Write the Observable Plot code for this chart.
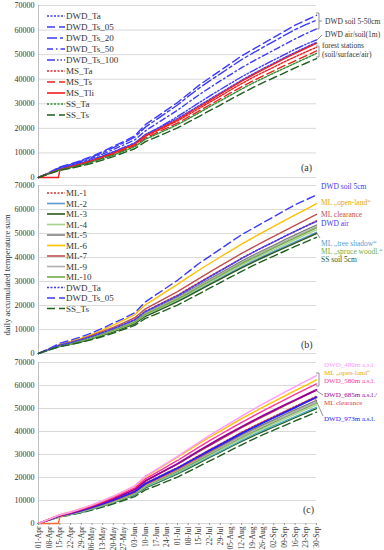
<!DOCTYPE html>
<html><head><meta charset="utf-8">
<script src="https://cdn.jsdelivr.net/npm/d3@7"></script>
<script src="https://cdn.jsdelivr.net/npm/@observablehq/plot@0.6"></script>
<style>
body{margin:0;background:#fff;font-family:"Liberation Serif","DejaVu Serif",serif}
#wrap{position:relative;width:384px;height:550px;overflow:hidden}
.panel{position:absolute;left:0;overflow:visible}
#ov{position:absolute;left:0;top:0;pointer-events:none}
svg text{font-family:"Liberation Serif","DejaVu Serif",serif}
</style></head><body><div id="wrap"></div>
<script>
// ---- data ----
const weekLabels = ["01-Apr","08-Apr","15-Apr","22-Apr","29-Apr","06-May","13-May","20-May","27-May","03-Jun","10-Jun","17-Jun","24-Jun","01-Jul","08-Jul","15-Jul","22-Jul","29-Jul","05-Aug","12-Aug","19-Aug","26-Aug","02-Sep","09-Sep","16-Sep","23-Sep","30-Sep"];
const tliLabels = ["01-Apr","14-Apr","15-Apr","22-Apr","29-Apr","06-May","13-May","20-May","27-May","03-Jun","10-Jun","17-Jun","24-Jun","01-Jul","08-Jul","15-Jul","22-Jul","29-Jul","05-Aug","12-Aug","19-Aug","26-Aug","02-Sep","09-Sep","16-Sep","23-Sep","30-Sep"];
const yTicks = [0,10000,20000,30000,40000,50000,60000,70000];

const DWD_Ta     = [0,1800,3500,4500,5800,7100,8700,10300,12200,14000,17500,19600,21800,24000,26600,29200,31800,34400,37000,39600,42000,44300,46500,48800,50900,53000,55000];
const DWD_Ts_05  = [0,2000,4300,5500,7000,8600,10500,12700,14700,17000,21500,24500,27500,30500,34000,37500,40500,43500,46500,49500,52000,54500,57000,59500,62000,64000,66000];
const DWD_Ts_20  = [0,1900,4100,5300,6700,8300,10100,12200,14200,16400,20500,23500,26500,29500,33000,36300,39300,42200,45100,48000,50500,53000,55400,57800,60200,62200,64000];
const DWD_Ts_50  = [0,1800,3900,5000,6300,7800,9500,11400,13300,15300,19000,21800,24600,27400,30500,33600,36500,39300,42000,44700,47200,49500,51800,54100,56400,58500,60500];
const DWD_Ts_100 = [0,1700,3700,4700,5900,7200,8800,10500,12200,14000,17300,19700,22200,24800,27600,30400,33100,35800,38400,41000,43300,45600,47800,50000,52200,54200,56000];
const MS_Ta  = [0,1700,3300,4300,5500,6800,8300,9800,11600,13400,16800,18800,20900,23000,25500,28000,30600,33100,35700,38200,40600,42800,44900,47100,49100,51100,53000];
const MS_Ts  = [0,1600,3200,4100,5200,6500,7900,9400,11100,12900,16100,18100,20100,22100,24600,27000,29500,32000,34500,36900,39200,41400,43400,45500,47500,49500,51500];
const MS_Tli = [0,0,3000,4300,5500,6800,8300,9900,11700,13500,17000,19100,21300,23500,26100,28700,31300,33900,36600,39200,41600,43900,46100,48400,50500,52600,54600];
const SS_Ta  = [0,1600,3100,4000,5100,6300,7700,9100,10800,12500,15600,17500,19500,21500,23900,26300,28800,31200,33600,36000,38300,40400,42500,44500,46500,48500,50500];
const SS_Ts  = [0,1500,2900,3700,4700,5800,7100,8500,10100,11700,14600,16400,18300,20200,22500,24800,27200,29500,31900,34200,36500,38600,40600,42600,44600,46500,48400];

const ML_1  = [0,1700,3400,4400,5700,7100,8700,10300,12200,14100,17600,19800,22100,24300,26900,29500,32100,34600,37100,39700,42000,44300,46500,48700,50900,53100,55300];
const ML_2  = [0,1500,3000,3900,5000,6300,7700,9200,10900,12600,15800,17800,19800,21900,24300,26700,29100,31400,33800,36100,38400,40500,42500,44500,46500,48500,50500];
const ML_3  = [0,1500,3000,3900,4900,6200,7600,9000,10700,12400,15500,17500,19500,21600,23900,26300,28700,31000,33400,35700,37900,40000,42000,44000,46000,48000,50000];
const ML_4  = [0,1600,3100,4000,5200,6500,7900,9400,11100,12900,16100,18100,20200,22300,24700,27100,29600,32000,34400,36800,39100,41200,43300,45400,47400,49500,51500];
const ML_5  = [0,1700,3300,4300,5500,6900,8400,10000,11800,13600,17000,19100,21300,23500,26000,28500,31000,33500,36000,38500,40800,43000,45100,47300,49400,51500,53500];
const ML_6  = [0,1900,3800,5000,6400,8000,9800,11800,14000,16200,20300,23100,26000,28800,31800,34700,37500,40200,42900,45600,48100,50600,53000,55400,57800,60100,62400];
const ML_7  = [0,1800,3600,4700,6000,7500,9200,10900,12900,14900,18600,21000,23400,25800,28500,31200,33900,36500,39100,41700,44100,46500,48800,51100,53400,55700,58000];
const ML_9  = [0,1600,3200,4200,5400,6700,8200,9800,11600,13400,16700,18800,20900,23100,25600,28100,30600,33000,35500,37900,40200,42400,44500,46600,48700,50800,52800];
const ML_10 = [0,1600,3100,4100,5300,6600,8000,9600,11300,13100,16400,18400,20500,22700,25100,27600,30100,32500,35000,37400,39700,41800,44000,46100,48200,50300,52300];

const DWD_480 = [0,1900,3800,5000,6500,8100,9900,11900,14100,16400,20600,23400,26300,29200,32300,35300,38300,41100,43900,46700,49400,52000,54500,57000,59500,61900,64300];
const DWD_580 = [0,1800,3600,4800,6200,7700,9400,11300,13400,15500,19400,22000,24700,27400,30300,33200,36000,38700,41400,44000,46500,49000,51400,53800,56100,58400,60700];
const DWD_685 = [0,1800,3500,4600,5900,7400,9000,10800,12800,14800,18500,21000,23500,26000,28800,31600,34300,37000,39600,42100,44500,46900,49200,51500,53700,55900,58100];
const DWD_973 = [0,1700,3400,4400,5600,7000,8500,10100,12000,13800,17300,19500,21800,24000,26600,29100,31700,34200,36700,39200,41500,43800,46000,48200,50400,52700,54900];

// ---- series styling ----
const FONT = '"Liberation Serif","DejaVu Serif",serif';
const parse = s => d3.utcParse("%d-%b-%Y")(s + "-2019");
const weekDates = weekLabels.map(parse);
const tliDates = tliLabels.map(parse);
const BLUE = "#3b3bff", RED = "#f02020", GRN = "#2f8f2f", DGRN = "#1f5f1f";
const DOT = "2,1.5", DASH = "8,4";
const S = (name, values, color, dash, w = 1.4, dates = weekDates) => ({name, values, color, dash, w, dates});

const panelA = [
  S("DWD_Ta", DWD_Ta, BLUE, DOT),
  S("DWD_Ts_05", DWD_Ts_05, BLUE, DASH),
  S("DWD_Ts_20", DWD_Ts_20, BLUE, "10,3,3,3"),
  S("DWD_Ts_50", DWD_Ts_50, BLUE, "6,3,1.5,3"),
  S("DWD_Ts_100", DWD_Ts_100, BLUE, "8,2,1.5,2,1.5,2"),
  S("MS_Ta", MS_Ta, RED, DOT),
  S("MS_Ts", MS_Ts, RED, DASH),
  S("MS_Tli", MS_Tli, RED, null, 1.4, tliDates),
  S("SS_Ta", SS_Ta, GRN, DOT),
  S("SS_Ts", SS_Ts, DGRN, DASH)
];
const panelB = [
  S("ML-1", ML_1, "#d03030", DOT),
  S("ML-2", ML_2, "#5b9bd5", null),
  S("ML-3", ML_3, "#2a5a1c", null),
  S("ML-4", ML_4, "#a9d18e", null),
  S("ML-5", ML_5, "#7f7f7f", null),
  S("ML-6", ML_6, "#ffc000", null),
  S("ML-7", ML_7, "#c0504d", null),
  S("ML-9", ML_9, "#b0b0b0", null),
  S("ML-10", ML_10, "#70ad47", null),
  S("DWD_Ta", DWD_Ta, BLUE, DOT),
  S("DWD_Ts_05", DWD_Ts_05, BLUE, DASH),
  S("SS_Ts", SS_Ts, DGRN, DASH)
];
const panelC = [
  S("SS_Ts", SS_Ts, "#1f5f1f", DASH),
  S("ML-3", ML_3, "#2a5a1c", null),
  S("ML-2", ML_2, "#4bacc6", null),
  S("ML-4", ML_4, "#a9d18e", null),
  S("ML-10", ML_10, "#70ad47", null),
  S("ML-9", ML_9, "#b0b0b0", null),
  S("ML-5", ML_5, "#7f7f7f", null),
  S("MS_Tli", MS_Tli, "#ff6633", null, 1.4, tliDates),
  S("ML-1", ML_1, "#d03030", DOT),
  S("DWD_973", DWD_973, "#2020ff", null, 1.8),
  S("ML-7", ML_7, "#c0504d", null),
  S("DWD_685", DWD_685, "#990099", null, 1.8),
  S("DWD_580", DWD_580, "#ff3399", null),
  S("ML-6", ML_6, "#ffc000", null),
  S("DWD_480", DWD_480, "#ff99ff", null)
];

const wrap = document.getElementById("wrap");
function panel(list, top, height, mt, mb, xaxis) {
  const marks = [
    Plot.gridY(yTicks, {stroke: "#d9d9d9", strokeOpacity: 1}),
    Plot.ruleX([weekDates[0]], {stroke: "#bfbfbf"}),
    Plot.axisY(yTicks, {tickSize: 0, tickPadding: 4, tickFormat: d => String(d), fontSize: 8, label: null}),
    ...list.map(s => Plot.line(s.values.map((v, i) => ({date: s.dates[i], v})), {
      x: "date", y: "v", stroke: s.color, strokeWidth: s.w, strokeDasharray: s.dash || undefined
    }))
  ];
  if (xaxis) {
    marks.push(Plot.axisX(weekDates, {tickRotate: -90, tickSize: 2, tickPadding: 1, tickFormat: d3.utcFormat("%d-%b"), fontSize: 7.5, stroke: "#999", label: null}));
  } else {
    marks.push(Plot.axisX({ticks: [], label: null}));
  }
  const p = Plot.plot({
    width: 384, height, marginLeft: 38, marginRight: 68, marginTop: mt, marginBottom: mb,
    style: {fontFamily: FONT, fontSize: "9px", color: "#333", background: "transparent", overflow: "visible"},
    x: {type: "utc", domain: [weekDates[0], weekDates[weekDates.length - 1]], label: null},
    y: {domain: [0, 70000], label: null},
    marks
  });
  p.classList.add("panel");
  p.style.top = top + "px";
  wrap.appendChild(p);
}
panel(panelA, 0, 180, 5, 3, false);
panel(panelB, 180, 177, 5, 4, false);
panel(panelC, 357, 193, 5, 27, true);

// ---- overlay: legends, annotations, labels ----
const ov = d3.select(wrap).append("svg").attr("id", "ov").attr("width", 384).attr("height", 550)
  .style("font-family", FONT);
function legend(list, y0, step) {
  list.forEach((s, i) => {
    const y = y0 + i * step;
    ov.append("line").attr("x1", 47).attr("x2", 65).attr("y1", y).attr("y2", y)
      .attr("stroke", s.color).attr("stroke-width", 1.6).attr("stroke-dasharray", s.dash || null);
    ov.append("text").attr("x", 66).attr("y", y + 3).attr("font-size", 9).attr("fill", "#333").text(s.name);
  });
}
legend(panelA, 16, 11);
legend(panelB, 193, 10.5);

function note(x, y, t, color, size = 7.5) {
  ov.append("text").attr("x", x).attr("y", y).attr("font-size", size).attr("fill", color).text(t);
}
function path(d, color = "#777") {
  ov.append("path").attr("d", d).attr("fill", "none").attr("stroke", color).attr("stroke-width", 0.8);
}
// (a)
path("M316,13 H319 V29 H316 M319,21 H322");
note(325, 24, "DWD soil 5-50cm", "#333");
path("M316,41 L322,35");
note(325, 37, "DWD air/soil(1m)", "#333");
path("M316,46 H319 V57 H316");
note(322, 48, "forest stations", "#333");
note(322, 57, "(soil/surface/air)", "#333");
note(301, 171, "(a)", "#333", 10);
// (b)
note(321, 189, "DWD soil 5cm", "#3b3bff");
note(321, 205, "ML  \u201Eopen-land\u201C", "#e6a800");
note(321, 217, "ML  clearance", "#c0504d");
note(321, 226, "DWD air", "#3b3bff");
path("M316,232 L320,238");
note(321, 246, "ML  \u201Etree shadow\u201C", "#5b9bd5");
note(321, 254, "ML  \u201Espruce woodl.\u201C", "#70ad47");
note(321, 262, "SS     soil 5cm", "#2a5a1c");
note(301, 348, "(b)", "#333", 10);
// (c)
note(324, 367, "DWD_480m a.s.l.", "#ff99ff", 7);
note(324, 375, "ML  \u201Eopen-land\u201C", "#e6a800", 7);
note(324, 383, "DWD_580m a.s.l.", "#ff3399", 7);
path("M316,373 H319 V386 H316");
note(324, 397, "DWD_685m a.s.l./", "#990099", 7);
note(324, 405, "ML  clearance", "#e04040", 7);
path("M315,390 L323,395");
path("M315,398 L323,416");
note(324, 421, "DWD_973m a.s.l.", "#2020ff", 7);
note(303, 513, "(c)", "#333", 10);
// y label
ov.append("text").attr("transform", "translate(10,275) rotate(-90)").attr("text-anchor", "middle")
  .attr("font-size", 8.5).attr("fill", "#333").text("daily accumulated temperature sum");
</script></body></html>
